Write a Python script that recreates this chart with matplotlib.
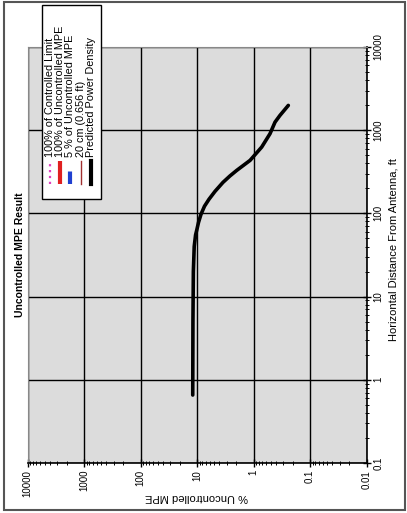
import matplotlib
matplotlib.use("Agg")
import matplotlib.pyplot as plt
from matplotlib.lines import Line2D
from matplotlib.patches import Rectangle

plt.rcParams['font.family'] = ['Liberation Sans', 'DejaVu Sans']

# predicted power density
distance_ft = [0.656, 5, 20, 40, 55, 63, 78, 97.5, 122, 148, 184, 236, 282, 329, 434, 627, 908,
               1250, 1507, 1986]
mpe_pct = [11.9, 11.8, 11.6, 11.2, 10.6, 10.1, 9.4, 8.5, 7.37, 6.13, 4.8, 3.47, 2.61, 1.98,
           1.15, 0.716, 0.51, 0.416, 0.34, 0.242]

mpe_ticks = [10000, 1000, 100, 10, 1, 0.1, 0.01]
mpe_labels = ["10000", "1000", "100", "10", "1", "0.1", "0.01"]
dist_ticks = [0.1, 1, 10, 100, 1000, 10000]
dist_labels = ["0.1", "1", "10", "100", "1000", "10000"]

legend_labels = ["100% of Controlled Limit", "100% of Uncontrolled MPE",
                 "5 % of Uncontrolled MPE", "20 cm (0.656 ft)", "Predicted Power Density"]

W, H = 407, 513
fig = plt.figure(figsize=(W / 100, H / 100), dpi=100)

def fx(px):
    return px / W

def fy(py):
    return 1 - py / H

# the whole chart is turned a quarter turn, so MPE runs along x and distance along y
ax = fig.add_axes([fx(27.5), fy(463), fx(366.5) - fx(27.5), fy(47) - fy(463)])
ax.set_facecolor('#dcdcdc')
ax.set_xscale('log')
ax.set_yscale('log')
ax.set_xlim(10000, 0.01)
ax.set_ylim(0.1, 10000)

ax.plot(mpe_pct, distance_ft, color='black', lw=2.6, solid_capstyle='round',
        solid_joinstyle='round', zorder=3)

ax.set_xticks(mpe_ticks)
ax.set_xticklabels(mpe_labels, rotation=90)
ax.set_yticks(dist_ticks)
ax.set_yticklabels(dist_labels, rotation=90, va='center')
ax.yaxis.tick_right()
ax.tick_params(which='major', direction='inout', length=6, width=1, labelsize=7, pad=2)
ax.tick_params(which='minor', direction='inout', length=3, width=0.7)
ax.grid(which='major', color='black', lw=1)
ax.set_axisbelow(True)
for s in ['left', 'top']:
    ax.spines[s].set_color('#888888')
    ax.spines[s].set_linewidth(0.8)
for s in ['bottom', 'right']:
    ax.spines[s].set_linewidth(1.2)

fig.text(fx(20), fy(255), "Uncontrolled MPE Result", rotation=90, fontsize=7.5,
         fontweight='bold', ha='center', va='center')
fig.text(fx(197), fy(497), "% Uncontrolled MPE", rotation=180, fontsize=8,
         ha='center', va='center')
fig.text(fx(393), fy(250), "Horizontal Distance From Antenna, ft", rotation=90,
         fontsize=8, ha='center', va='center')

# legend box, drawn by hand so it can be turned too
fig.patches.append(Rectangle((fx(42), fy(199)), fx(101) - fx(42), fy(5) - fy(199),
                             transform=fig.transFigure, facecolor='white',
                             edgecolor='black', lw=1, zorder=5))
handle_styles = [
    dict(color='#e040c0', ls=':', lw=1.6),
    dict(color='#e02020', ls=(0, (6, 2)), lw=3),
    dict(color='#2040d0', ls=(0, (3, 3)), lw=3),
    dict(color='#a03030', ls='-', lw=1),
    dict(color='black', ls='-', lw=3),
]
entry_x = [50, 60, 70, 81, 91]
for x, lab, st in zip(entry_x, legend_labels, handle_styles):
    fig.add_artist(Line2D([fx(x), fx(x)], [fy(184), fy(161)], transform=fig.transFigure,
                          zorder=6, **st))
    fig.text(fx(x), fy(157), lab, rotation=90, fontsize=7.8, ha='center', va='bottom',
             zorder=6)

# outer frame
fig.patches.append(Rectangle((fx(4), fy(510)), fx(405) - fx(4), fy(2) - fy(510),
                             transform=fig.transFigure, facecolor='none',
                             edgecolor='#555555', lw=1.5, zorder=7))

fig.savefig("out.png", dpi=100)
